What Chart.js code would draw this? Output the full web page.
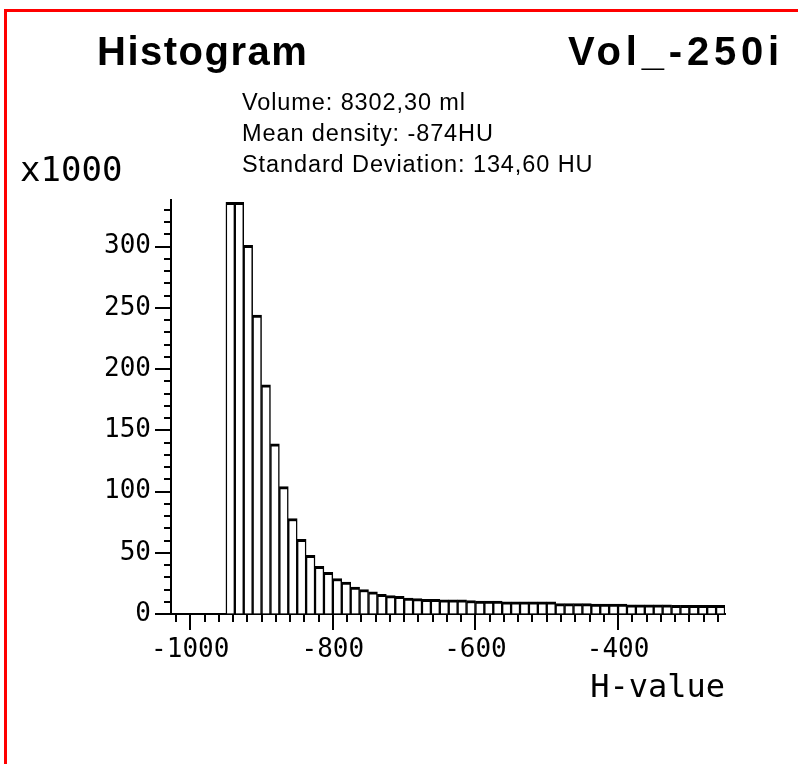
<!DOCTYPE html>
<html>
<head>
<meta charset="utf-8">
<script src="https://cdn.jsdelivr.net/npm/chart.js@4/dist/chart.umd.min.js"></script>
<style>
  html, body { margin: 0; padding: 0; background: #fff; }
  #wrap { position: relative; width: 798px; height: 764px; overflow: hidden; background: #fff; }
  #frame { position: absolute; left: 4px; top: 9px; width: 820px; height: 780px;
           border-top: 3px solid #f00; border-left: 3px solid #f00; }
  #hist { position: absolute; left: 0; top: 0; }
  .txt { position: absolute; color: #000; white-space: nowrap; font-family: 'Liberation Sans', Arial, sans-serif; }
  #title { left: 97px; top: 31px; font-size: 40px; line-height: 40px; font-weight: bold; letter-spacing: 1.5px; }
  #volName { right: 14px; top: 31px; font-size: 40px; line-height: 40px; font-weight: bold; letter-spacing: 4.8px; }
  #stats { left: 242px; top: 87px; font-size: 23.5px; line-height: 31px; letter-spacing: 0.9px; }
  #unit { left: 20px; top: 149px; font-family: 'DejaVu Sans Mono', monospace; font-size: 34px; line-height: 40px; }
</style>
</head>
<body>
<div id="wrap">
  <canvas id="hist" width="798" height="764"></canvas>
  <div id="frame"></div>
  <div class="txt" id="title">Histogram</div>
  <div class="txt" id="volName">Vol_-250i</div>
  <div class="txt" id="stats">Volume: 8302,30 ml<br>Mean density: -874HU<br>Standard Deviation: 134,60 HU</div>
  <div class="txt" id="unit">x1000</div>
</div>
<script>
// --- Histogram data (counts in thousands) ---
const binCenters = [
  -943.75, -931.25, -918.75, -906.25, -893.75, -881.25, -868.75, -856.25,
  -843.75, -831.25, -818.75, -806.25, -793.75, -781.25, -768.75, -756.25,
  -743.75, -731.25, -718.75, -706.25, -693.75, -681.25, -668.75, -656.25,
  -643.75, -631.25, -618.75, -606.25, -593.75, -581.25, -568.75, -556.25,
  -543.75, -531.25, -518.75, -506.25, -493.75, -481.25, -468.75, -456.25,
  -443.75, -431.25, -418.75, -406.25, -393.75, -381.25, -368.75, -356.25,
  -343.75, -331.25, -318.75, -306.25, -293.75, -281.25, -268.75, -256.25
];
const counts = [
  336, 336, 301, 244, 187, 139, 104, 78,
  61, 48, 39, 34, 29, 26, 22, 20,
  18, 16, 15, 14.5, 13, 12.5, 12, 12,
  11.5, 11.5, 11.5, 11, 10.5, 10.5, 10.5, 10,
  10, 10, 10, 10, 10, 8.5, 8.5, 8.5,
  8.5, 8, 8, 8, 8, 7.5, 7.5, 7.5,
  7.5, 7.5, 7, 7, 7, 7, 7, 7
];
const xLabels = [-1000, -800, -600, -400];
const yLabels = [0, 50, 100, 150, 200, 250, 300];

const monoFont = "'DejaVu Sans Mono', monospace";

// draw tick marks ourselves so major ticks can be longer than minor ones
const tickMarks = {
  id: 'tickMarks',
  afterDraw(chart) {
    const ctx = chart.ctx;
    const xs = chart.scales.x, ys = chart.scales.y;
    ctx.save();
    ctx.strokeStyle = '#000';
    ctx.lineWidth = 2;
    ctx.beginPath();
    xs.ticks.forEach(t => {
      const px = Math.round(xs.getPixelForValue(t.value));
      const len = xLabels.includes(t.value) ? 16 : 8;
      ctx.moveTo(px, xs.top);
      ctx.lineTo(px, xs.top + len);
    });
    ys.ticks.forEach(t => {
      const py = Math.round(ys.getPixelForValue(t.value));
      const len = yLabels.includes(t.value) ? 16 : 7;
      ctx.moveTo(ys.right, py);
      ctx.lineTo(ys.right - len, py);
    });
    ctx.stroke();
    ctx.restore();
  }
};

new Chart(document.getElementById('hist'), {
  type: 'bar',
  data: {
    datasets: [{
      data: binCenters.map((x, i) => ({ x: x, y: counts[i] })),
      backgroundColor: '#fff',
      borderColor: '#000',
      borderWidth: { top: 3, left: 1.5, right: 1.5, bottom: 0 },
      barPercentage: 1,
      categoryPercentage: 1
    }]
  },
  options: {
    responsive: false,
    animation: false,
    layout: { padding: { left: 0, top: 200, right: 73, bottom: 56 } },
    plugins: { legend: { display: false }, tooltip: { enabled: false } },
    scales: {
      x: {
        type: 'linear',
        offset: false,
        min: -1027,
        max: -250,
        afterFit: s => { s.height = 94; },
        border: { display: true, color: '#000', width: 2 },
        grid: { offset: false, drawOnChartArea: false, tickLength: 16, tickColor: 'rgba(0,0,0,0)' },
        ticks: {
          stepSize: 20,
          includeBounds: false,
          autoSkip: false,
          maxRotation: 0,
          maxTicksLimit: 100,
          padding: 5,
          color: '#000',
          font: { family: monoFont, size: 26 },
          callback: v => xLabels.includes(v) ? String(v) : ''
        },
        title: {
          display: true,
          text: 'H-value',
          align: 'end',
          color: '#000',
          padding: 0,
          font: { family: monoFont, size: 32 }
        }
      },
      y: {
        min: 0,
        max: 338,
        afterFit: s => { s.width = 171; },
        border: { display: true, color: '#000', width: 2 },
        grid: { drawOnChartArea: false, tickLength: 16, tickColor: 'rgba(0,0,0,0)' },
        ticks: {
          stepSize: 10,
          includeBounds: false,
          autoSkip: false,
          maxTicksLimit: 100,
          padding: 4,
          color: '#000',
          font: { family: monoFont, size: 26 },
          callback: v => yLabels.includes(v) ? String(v) : ''
        }
      }
    }
  },
  plugins: [tickMarks]
});
</script>
</body>
</html>
